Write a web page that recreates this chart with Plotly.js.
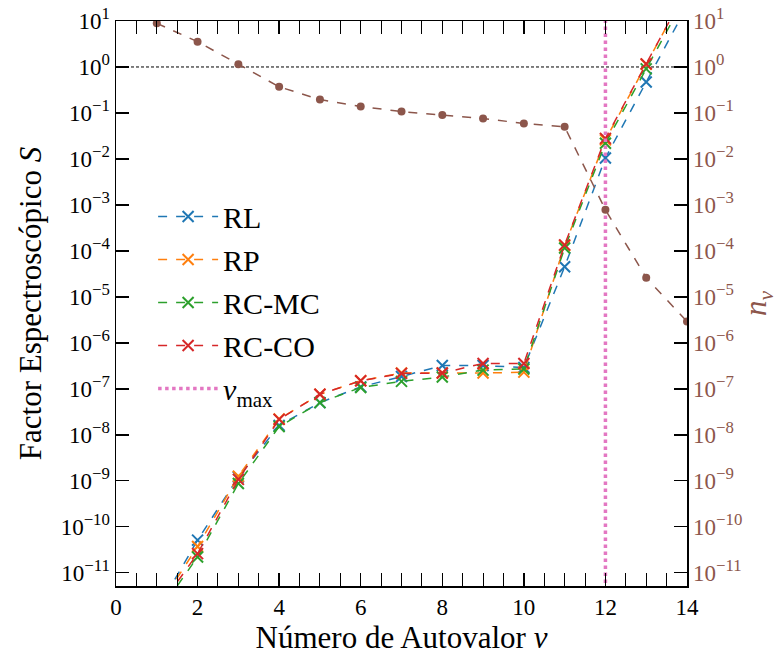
<!DOCTYPE html>
<html>
<head>
<meta charset="utf-8">
<script src="https://cdn.plot.ly/plotly-3.0.1.min.js"></script>
<style>html,body{margin:0;padding:0;background:#fff;}#chart{width:778px;height:655px;}</style>
</head>
<body>
<div id="chart"></div>
<script>
const nu = [1, 2, 3, 4, 5, 6, 7, 8, 9, 10, 11, 12, 13, 14];
const S_RL   = [1.5e-12, 5.1e-11, 1.2e-9, 1.6e-8, 5.0e-8, 1.1e-7, 1.85e-7, 3.2e-7, 3.2e-7, 2.9e-7, 4.5e-5, 1.05e-2, 0.47, 21];
const S_RP   = [1.6e-12, 3.7e-11, 1.25e-9, 2.2e-8, 7.6e-8, 1.5e-7, 2.2e-7, 2.2e-7, 2.2e-7, 2.3e-7, 1.3e-4, 2.6e-2, 1.15, 50];
const S_RCMC = [1.2e-12, 2.2e-11, 8.7e-10, 1.5e-8, 5.0e-8, 1.07e-7, 1.45e-7, 1.8e-7, 2.55e-7, 2.7e-7, 1.15e-4, 2.2e-2, 0.91, 38];
const S_RCCO = [1.5e-12, 2.6e-11, 1.07e-9, 2.16e-8, 7.6e-8, 1.49e-7, 2.16e-7, 2.2e-7, 3.56e-7, 3.55e-7, 1.35e-4, 2.8e-2, 1.17, 50];
const n_nu   = [8.9, 3.55, 1.15, 0.37, 0.195, 0.138, 0.107, 0.090, 0.076, 0.059, 0.050, 7.8e-4, 2.6e-5, 2.9e-6];
const nuMax = 12;
const refLevel = 1;
const seriesNames = ["RL", "RP", "RC-MC", "RC-CO"];
const seriesColors = ["#1f77b4", "#ff7f0e", "#2ca02c", "#d62728"];
const seriesData = [S_RL, S_RP, S_RCMC, S_RCCO];
const decadeExps = [-11, -10, -9, -8, -7, -6, -5, -4, -3, -2, -1, 0, 1];
const xTickVals = [0, 2, 4, 6, 8, 10, 12, 14];

const tickVals = decadeExps.map(e => Math.pow(10, e));
const tickText = decadeExps.map(e => "10<span style=\"font-size:24px\"><sup>" + (e < 0 ? "\u2212" + (-e) : e) + "</sup></span>");
const yLow = -11.29, yHigh = 1;

const font = "'Liberation Serif', 'DejaVu Serif', serif";
const traces = seriesData.map((d, i) => ({
  x: nu, y: d, type: "scatter", mode: "lines+markers", name: seriesNames[i],
  legendgroup: "g" + i,
  line: {color: seriesColors[i], dash: "dash", width: 1.5},
  marker: {symbol: "x-thin-open", size: 11, line: {color: seriesColors[i], width: 2}, color: seriesColors[i]}
}));
traces.push({
  x: [nuMax, nuMax], y: [Math.pow(10, yLow - 1), Math.pow(10, yHigh + 1)], type: "scatter", mode: "lines",
  name: "<i>\u03bd</i><sub>max</sub>", legendgroup: "g4",
  line: {color: "#e377c2", dash: "dot", width: 3.5}
});
traces.push({
  x: nu, y: n_nu, type: "scatter", mode: "lines+markers", yaxis: "y2", showlegend: false,
  line: {color: "#8c564b", dash: "dash", width: 1.5},
  marker: {symbol: "circle", size: 8, color: "#8c564b"}
});

const layout = {
  width: 778, height: 655,
  margin: {l: 116, r: 91, t: 21, b: 69},
  paper_bgcolor: "#fff", plot_bgcolor: "#fff",
  font: {family: font, size: 22, color: "#000"},
  showlegend: true,
  legend: {x: 0.065, y: 0.70, xanchor: "left", yanchor: "top", bgcolor: "rgba(255,255,255,0)",
           font: {family: font, size: 30}, tracegroupgap: 1, itemwidth: 60},
  xaxis: {
    range: [0, 14], tickvals: xTickVals, ticks: "inside", ticklen: 13, tickwidth: 1.5,
    tickcolor: "#000", showline: true, linecolor: "#000", linewidth: 1.5, mirror: "allticks",
    showgrid: false, zeroline: false,
    minor: {dtick: 0.5, ticks: "inside", ticklen: 5, tickwidth: 1, tickcolor: "#000", showgrid: false},
    tickfont: {family: font, size: 23},
    title: {text: "Número de Autovalor <i>\u03bd</i>", font: {family: font, size: 31}, standoff: 12}
  },
  yaxis: {
    type: "log", range: [yLow, yHigh], tickvals: tickVals, ticktext: tickText,
    ticks: "inside", ticklen: 13, tickwidth: 1.5, tickcolor: "#000",
    showline: true, linecolor: "#000", linewidth: 1.5, mirror: false,
    showgrid: false, zeroline: false,
    tickfont: {family: font, size: 23},
    title: {text: "Factor Espectroscópico <i>S</i>", font: {family: font, size: 31}, standoff: 10}
  },
  yaxis2: {
    type: "log", range: [yLow, yHigh], tickvals: tickVals, ticktext: tickText,
    overlaying: "y", side: "right",
    ticks: "inside", ticklen: 13, tickwidth: 1.5, tickcolor: "#000",
    showline: true, linecolor: "#000", linewidth: 1.5,
    showgrid: false, zeroline: false,
    tickfont: {family: font, size: 23, color: "#8c564b"},
    title: {text: "<i>n</i><sub><i>\u03bd</i></sub>", font: {family: font, size: 31, color: "#8c564b"}, standoff: 8}
  },
  shapes: [{type: "line", xref: "paper", x0: 0, x1: 1, yref: "y", y0: refLevel, y1: refLevel,
            line: {color: "#000", width: 1, dash: "3px,2px"}, layer: "below"}]
};

Plotly.newPlot("chart", traces, layout, {displayModeBar: false, staticPlot: true});
</script>
</body>
</html>
